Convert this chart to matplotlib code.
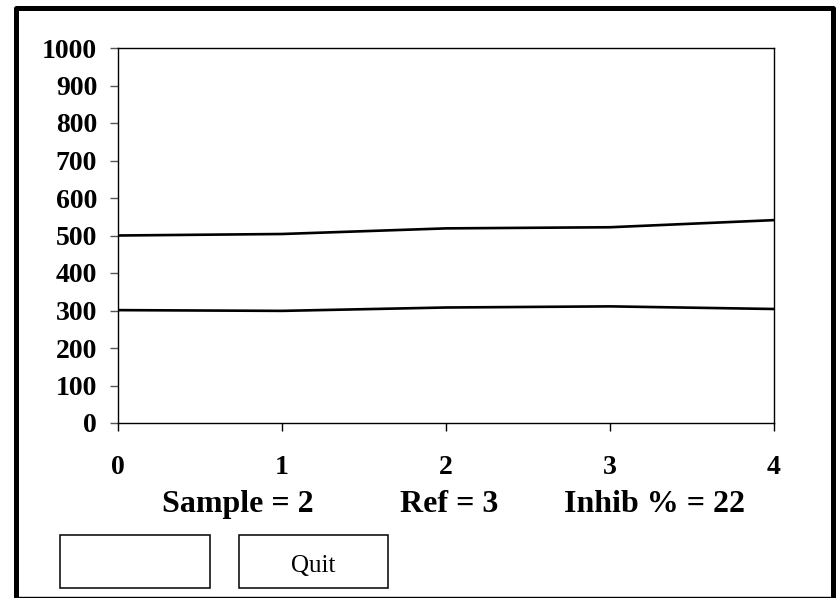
import numpy as np
import matplotlib
matplotlib.use("Agg")
import matplotlib.pyplot as plt
from matplotlib.lines import Line2D
from matplotlib.patches import Rectangle

# chart data
x_vals = [0, 1, 2, 3, 4]
upper_vals = [500, 504, 519, 522, 541]
lower_vals = [301, 299, 308, 311, 304]
y_ticks = [0, 100, 200, 300, 400, 500, 600, 700, 800, 900, 1000]
status_texts = ["Sample = 2", "Ref = 3", "Inhib % = 22"]
button_labels = ["", "Quit"]

W, H = 836, 598
plt.rcParams['font.family'] = ['Liberation Serif', 'DejaVu Serif']

fig = plt.figure(figsize=(W / 100, H / 100), dpi=100)


def fx(px):
    return px / W


def fy(py):
    return 1 - py / H


ax = fig.add_axes([fx(118), fy(423), fx(774) - fx(118), fy(48) - fy(423)])
ax.plot(x_vals, upper_vals, color='black', linewidth=1.9, solid_capstyle='butt')
ax.plot(x_vals, lower_vals, color='black', linewidth=1.9, solid_capstyle='butt')
ax.set_xlim(0, 4)
ax.set_ylim(0, 1000)
ax.set_yticks(y_ticks)
ax.set_xticks(x_vals)
for s in ax.spines.values():
    s.set_linewidth(1.0)
ax.tick_params(axis='y', length=6, width=1.0, pad=9, labelsize=20, color='#555555')
ax.tick_params(axis='x', length=6, width=1.0, pad=17, labelsize=20)
for lab in ax.get_xticklabels() + ax.get_yticklabels():
    lab.set_fontweight('bold')

# status line under the axis
text_x = [238, 449, 654]
for t, px in zip(status_texts, text_x):
    fig.text(fx(px), fy(512), t, ha='center', va='baseline',
             fontsize=23, fontweight='bold')

# buttons
button_x = [(60, 210), (239, 388)]
for lab, (x0, x1) in zip(button_labels, button_x):
    fig.add_artist(Rectangle((fx(x0), fy(588)), fx(x1) - fx(x0), fy(535) - fy(588),
                             transform=fig.transFigure, fill=False,
                             edgecolor='black', linewidth=1.1))
    if lab:
        fig.text(fx((x0 + x1) / 2), fy(572), lab, ha='center', va='baseline', fontsize=18)

# window frame: thick left/top/right, thin bottom
fig.add_artist(Line2D([fx(15.5), fx(15.5), fx(832.5), fx(832.5)],
                      [fy(598), fy(7.5), fy(7.5), fy(598)],
                      transform=fig.transFigure, color='black', linewidth=3.6,
                      solid_joinstyle='round'))
fig.add_artist(Line2D([fx(15), fx(832)], [fy(596.5), fy(596.5)],
                      transform=fig.transFigure, color='black', linewidth=1.0))

fig.savefig("out.png", dpi=100)
